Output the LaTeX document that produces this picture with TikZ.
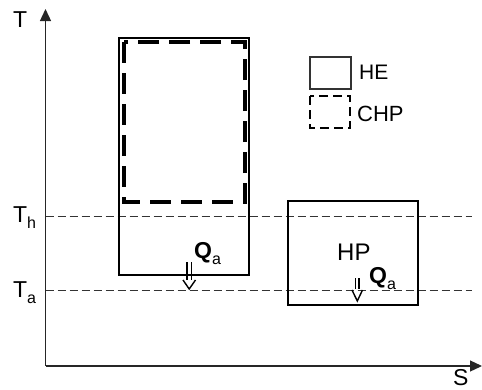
\documentclass[tikz,border=0pt]{standalone}
\usepackage{fontspec}
\setmainfont{Liberation Sans}
\usetikzlibrary{arrows.meta}
\newcommand{\lowsub}[1]{\raisebox{-0.3em}{\fontsize{16}{16}\selectfont #1}}
\begin{document}
\begin{tikzpicture}[x=1pt,y=-1pt,
  lbl/.style={inner sep=0pt,anchor=base west,font=\fontsize{23}{26}\selectfont},
  qlbl/.style={inner sep=0pt,anchor=base west,font=\fontsize{23}{26}\selectfont\bfseries},
  axisline/.style={line width=1.3pt,color=black!85,-{Triangle[length=12pt,width=11pt]}},
  level/.style={line width=1pt,color=black!80,dash pattern=on 8pt off 4pt},
  solidbox/.style={line width=2pt},
  chpbox/.style={line width=3.8pt,dash pattern=on 21pt off 10pt},
  heatflow/.style={line width=1.4pt}]
\useasboundingbox (0,0) rectangle (482,389);
% axes
\coordinate (O) at (45.5,366);
\coordinate (Ttop) at (45.5,9);
\coordinate (Send) at (482,366);
\draw[axisline] (O) -- (Ttop);
\draw[axisline] (O) -- (Send);
\node[lbl] (Tlab) at (13,27) {T};
\node[lbl] (Slab) at (453,385) {S};
% temperature levels
\coordinate (ThL) at (45.5,216);
\coordinate (ThR) at (472,216);
\coordinate (TaL) at (45.5,290);
\coordinate (TaR) at (472,290);
\draw[level] (ThL) -- (ThR);
\draw[level] (TaL) -- (TaR);
\node[lbl] (Th) at (13,222) {T\lowsub{h}};
\node[lbl] (Ta) at (13,297) {T\lowsub{a}};
% HE box
\draw[solidbox] (119,38) rectangle (249,275);
% CHP box
\draw[chpbox] (124,42) -- (124,202) -- (245,202) -- (245,42) -- cycle;
% HP box
\draw[solidbox] (288,201) rectangle (418,305);
\node[lbl,font=\fontsize{24}{28}\selectfont] (HP) at (337,260) {HP};
% Q labels
\node[qlbl] (Q1) at (194,258) {Q\lowsub{\mdseries a}};
\node[qlbl] (Q2) at (369,283) {Q\lowsub{\mdseries a}};
% heat flow arrows
\draw[heatflow] (187,262) -- (187,280) (191.5,262) -- (191.5,280);
\draw[heatflow] (183,280) -- (189.2,289) -- (195.5,280);
\draw[heatflow] (355.5,278) -- (355.5,289) (359,278) -- (359,289);
\draw[heatflow] (352,290) -- (357.3,301) -- (362.5,290);
% legend
\draw[line width=1.3pt,color=black!80] (310,57) rectangle (351,89);
\node[lbl,font=\fontsize{21}{26}\selectfont] (HElab) at (359,79) {HE};
\draw[line width=2.2pt,dash pattern=on 9pt off 5pt] (310,96) rectangle (350,128);
\node[lbl,font=\fontsize{22}{26}\selectfont] (CHPlab) at (357,121) {CHP};
\end{tikzpicture}
\end{document}
